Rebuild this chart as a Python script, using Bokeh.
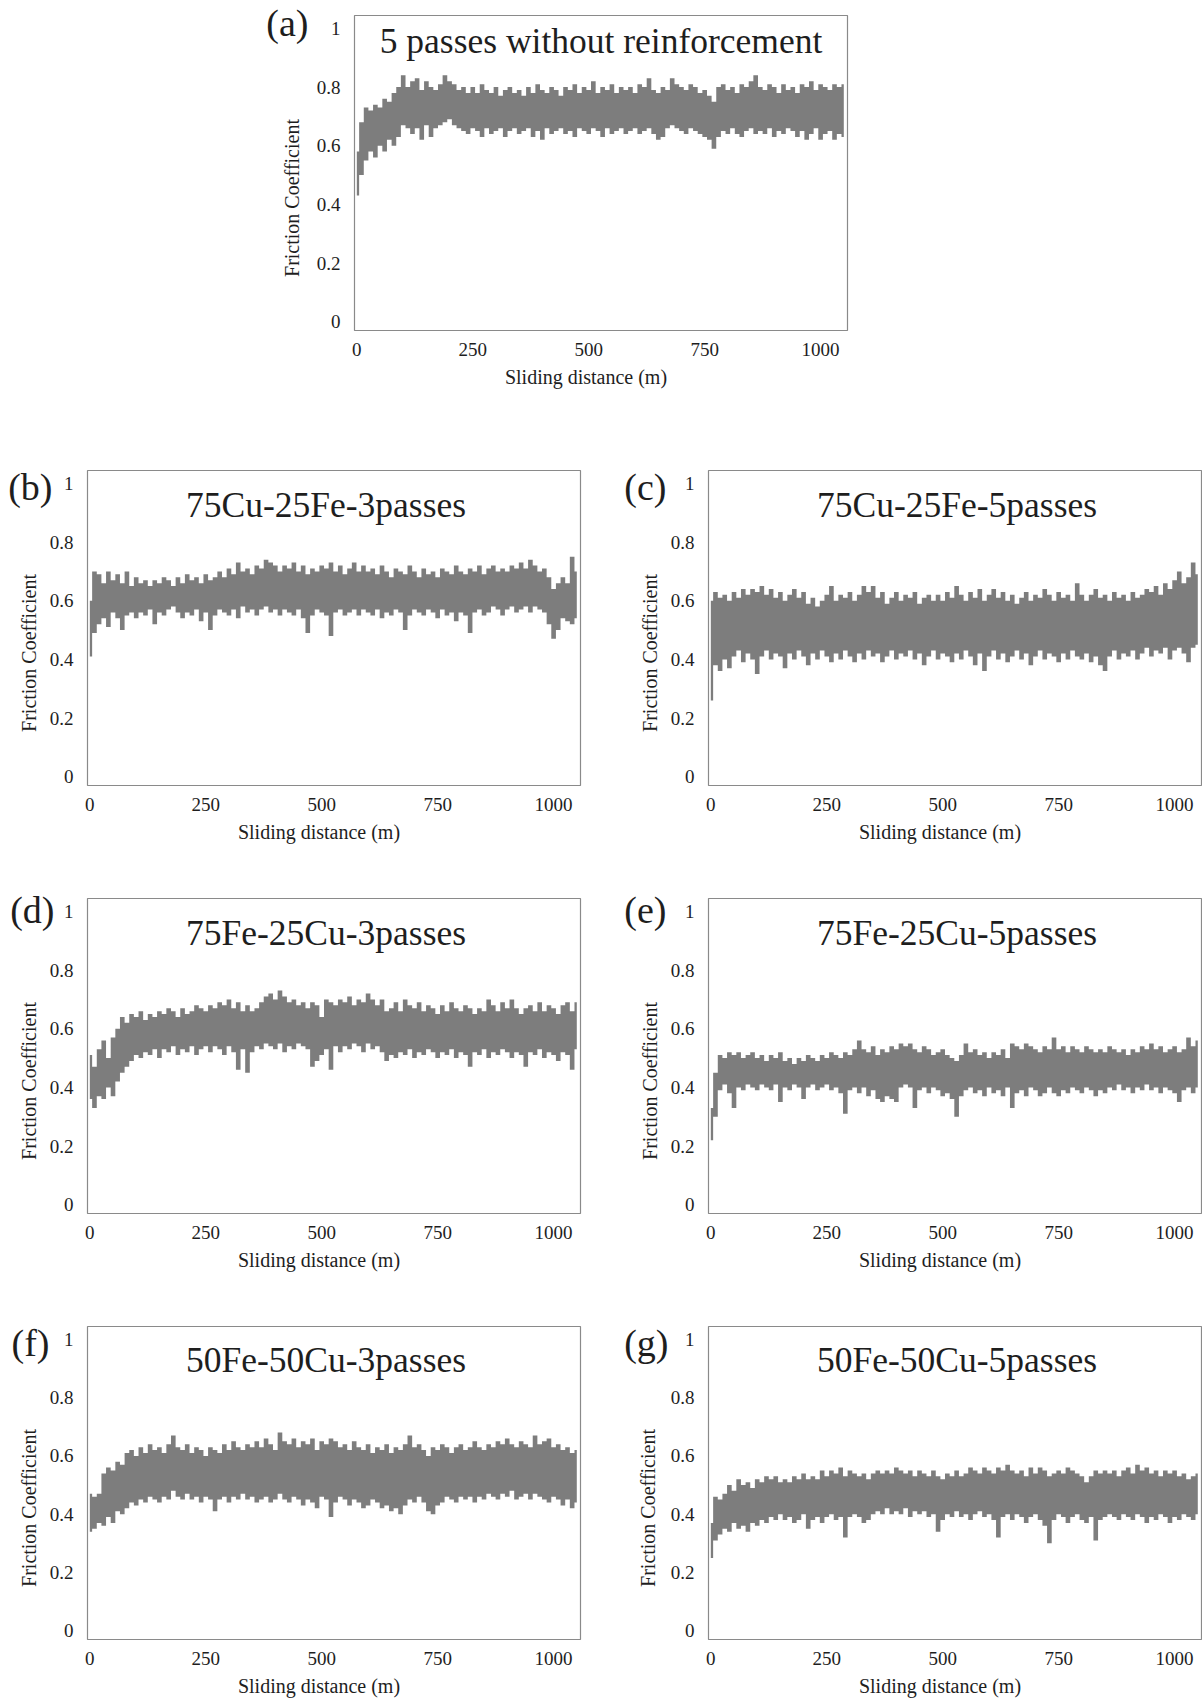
from bokeh.plotting import figure
from bokeh.models import (Range1d, FixedTicker, NumeralTickFormatter, Label, ColumnDataSource,
                          LinearAxis, CustomJSTickFormatter)
from bokeh.layouts import column, row
from bokeh.embed import file_html
from bokeh.resources import INLINE

# sampling positions along the sliding distance (m), every 10 m
dist = list(range(0, 1060, 10))

# upper / lower envelope of the friction-coefficient trace
hi_a = [0.58,0.68,0.73,0.72,0.74,0.73,0.76,0.75,0.78,0.80,0.84,0.80,0.82,0.83,0.79,0.82,0.80,0.79,0.81,0.84,
        0.82,0.81,0.79,0.80,0.78,0.80,0.78,0.81,0.79,0.78,0.80,0.77,0.79,0.80,0.78,0.79,0.77,0.80,0.78,0.81,
        0.79,0.78,0.80,0.79,0.77,0.80,0.79,0.81,0.78,0.80,0.79,0.82,0.78,0.80,0.79,0.81,0.78,0.80,0.79,0.80,
        0.78,0.81,0.80,0.83,0.79,0.78,0.80,0.79,0.83,0.81,0.80,0.79,0.81,0.80,0.78,0.79,0.77,0.75,0.80,0.81,
        0.79,0.80,0.78,0.81,0.80,0.82,0.84,0.80,0.79,0.81,0.80,0.78,0.81,0.79,0.80,0.78,0.81,0.80,0.82,0.79,
        0.81,0.80,0.79,0.81,0.80,0.81]
lo_a = [0.43,0.50,0.55,0.58,0.56,0.60,0.58,0.62,0.60,0.63,0.67,0.66,0.64,0.66,0.62,0.67,0.63,0.66,0.67,0.68,
        0.69,0.67,0.66,0.65,0.64,0.66,0.65,0.63,0.66,0.64,0.65,0.66,0.63,0.65,0.66,0.64,0.65,0.66,0.63,0.65,
        0.62,0.66,0.64,0.65,0.66,0.64,0.65,0.63,0.66,0.65,0.64,0.66,0.65,0.63,0.66,0.64,0.65,0.66,0.64,0.65,
        0.66,0.64,0.65,0.66,0.64,0.62,0.63,0.66,0.67,0.66,0.65,0.64,0.66,0.65,0.64,0.63,0.62,0.59,0.63,0.65,
        0.64,0.66,0.64,0.63,0.65,0.66,0.64,0.65,0.64,0.66,0.63,0.65,0.64,0.66,0.65,0.63,0.65,0.62,0.64,0.66,
        0.62,0.64,0.65,0.62,0.64,0.63]

hi_b = [0.60,0.70,0.69,0.66,0.70,0.67,0.69,0.66,0.70,0.65,0.68,0.66,0.67,0.65,0.67,0.66,0.68,0.67,0.65,0.68,
        0.66,0.69,0.67,0.68,0.66,0.69,0.67,0.68,0.70,0.68,0.71,0.69,0.73,0.70,0.71,0.69,0.72,0.71,0.74,0.73,
        0.72,0.70,0.72,0.71,0.73,0.70,0.72,0.69,0.71,0.70,0.72,0.71,0.73,0.70,0.72,0.69,0.71,0.73,0.70,0.72,
        0.70,0.71,0.69,0.72,0.70,0.68,0.71,0.70,0.69,0.72,0.70,0.68,0.71,0.69,0.70,0.68,0.71,0.70,0.69,0.72,
        0.70,0.69,0.71,0.70,0.72,0.69,0.71,0.72,0.70,0.71,0.70,0.72,0.71,0.73,0.71,0.74,0.72,0.70,0.71,0.68,
        0.64,0.66,0.68,0.66,0.75,0.70]
lo_b = [0.41,0.49,0.52,0.54,0.51,0.56,0.54,0.50,0.55,0.56,0.54,0.56,0.55,0.57,0.52,0.56,0.55,0.57,0.58,0.56,
        0.54,0.56,0.55,0.57,0.53,0.56,0.50,0.55,0.57,0.56,0.55,0.57,0.54,0.58,0.56,0.57,0.55,0.57,0.58,0.56,
        0.57,0.55,0.57,0.56,0.55,0.57,0.54,0.49,0.55,0.57,0.56,0.55,0.48,0.56,0.57,0.55,0.56,0.57,0.55,0.57,
        0.56,0.55,0.57,0.54,0.56,0.55,0.57,0.56,0.50,0.55,0.57,0.56,0.55,0.57,0.56,0.54,0.57,0.55,0.56,0.53,
        0.56,0.55,0.49,0.56,0.57,0.55,0.56,0.58,0.57,0.55,0.57,0.58,0.56,0.57,0.58,0.56,0.58,0.57,0.56,0.52,
        0.47,0.50,0.54,0.53,0.52,0.54]

hi_c = [0.60,0.63,0.61,0.62,0.60,0.63,0.61,0.64,0.62,0.64,0.63,0.65,0.62,0.64,0.61,0.63,0.60,0.62,0.64,0.61,
        0.63,0.59,0.61,0.58,0.60,0.62,0.65,0.60,0.62,0.61,0.63,0.60,0.62,0.65,0.63,0.65,0.61,0.63,0.59,0.61,
        0.63,0.60,0.62,0.61,0.63,0.59,0.61,0.62,0.60,0.62,0.60,0.63,0.61,0.65,0.62,0.60,0.63,0.61,0.64,0.60,
        0.62,0.64,0.61,0.63,0.60,0.62,0.59,0.61,0.63,0.60,0.62,0.61,0.64,0.62,0.60,0.63,0.61,0.62,0.60,0.66,
        0.62,0.60,0.62,0.64,0.61,0.62,0.60,0.63,0.61,0.62,0.60,0.63,0.61,0.62,0.64,0.63,0.65,0.62,0.66,0.64,
        0.67,0.70,0.66,0.68,0.73,0.69]
lo_c = [0.26,0.38,0.36,0.40,0.37,0.41,0.43,0.39,0.42,0.40,0.35,0.41,0.43,0.40,0.42,0.41,0.37,0.42,0.40,0.43,
        0.41,0.38,0.42,0.40,0.43,0.41,0.39,0.42,0.40,0.43,0.41,0.39,0.42,0.40,0.43,0.41,0.42,0.39,0.41,0.43,
        0.40,0.42,0.41,0.43,0.40,0.42,0.38,0.41,0.43,0.40,0.42,0.41,0.39,0.42,0.40,0.43,0.41,0.38,0.42,0.36,
        0.41,0.43,0.40,0.42,0.39,0.41,0.43,0.40,0.42,0.38,0.41,0.43,0.40,0.42,0.41,0.39,0.42,0.40,0.43,0.41,
        0.40,0.42,0.39,0.41,0.38,0.36,0.41,0.43,0.40,0.42,0.41,0.43,0.40,0.42,0.44,0.41,0.43,0.42,0.44,0.40,
        0.43,0.44,0.42,0.39,0.44,0.45]

hi_d = [0.51,0.47,0.53,0.56,0.50,0.57,0.60,0.64,0.62,0.65,0.64,0.66,0.63,0.65,0.64,0.66,0.65,0.67,0.66,0.64,
        0.67,0.65,0.66,0.68,0.67,0.66,0.68,0.67,0.69,0.68,0.70,0.67,0.69,0.66,0.68,0.66,0.67,0.69,0.71,0.72,
        0.70,0.73,0.71,0.69,0.70,0.68,0.69,0.67,0.69,0.68,0.64,0.70,0.69,0.68,0.70,0.69,0.71,0.68,0.70,0.69,
        0.72,0.70,0.68,0.70,0.66,0.67,0.69,0.66,0.70,0.68,0.67,0.69,0.66,0.68,0.67,0.65,0.68,0.66,0.69,0.67,
        0.66,0.68,0.67,0.65,0.67,0.66,0.70,0.68,0.66,0.69,0.67,0.70,0.67,0.65,0.67,0.68,0.66,0.69,0.66,0.68,
        0.67,0.65,0.68,0.69,0.66,0.69]
lo_d = [0.36,0.33,0.37,0.36,0.40,0.37,0.42,0.45,0.47,0.49,0.51,0.50,0.52,0.51,0.53,0.50,0.53,0.52,0.54,0.51,
        0.53,0.52,0.54,0.51,0.53,0.54,0.52,0.54,0.53,0.51,0.54,0.52,0.46,0.53,0.45,0.52,0.54,0.53,0.55,0.54,
        0.53,0.55,0.52,0.54,0.53,0.55,0.54,0.53,0.47,0.49,0.51,0.53,0.46,0.54,0.52,0.54,0.53,0.55,0.54,0.52,
        0.55,0.53,0.54,0.52,0.49,0.51,0.50,0.52,0.51,0.53,0.50,0.52,0.51,0.53,0.52,0.50,0.52,0.51,0.53,0.50,
        0.52,0.51,0.47,0.52,0.51,0.53,0.50,0.52,0.51,0.53,0.52,0.50,0.52,0.51,0.47,0.52,0.51,0.53,0.50,0.52,
        0.51,0.49,0.52,0.51,0.46,0.53]

hi_e = [0.33,0.45,0.51,0.50,0.52,0.51,0.52,0.50,0.51,0.52,0.50,0.51,0.49,0.51,0.50,0.52,0.49,0.50,0.48,0.50,
        0.49,0.51,0.50,0.49,0.51,0.50,0.52,0.51,0.50,0.52,0.51,0.53,0.56,0.53,0.52,0.54,0.51,0.53,0.52,0.54,
        0.53,0.55,0.54,0.55,0.53,0.52,0.54,0.53,0.51,0.52,0.53,0.51,0.50,0.49,0.51,0.55,0.52,0.53,0.51,0.52,
        0.50,0.52,0.51,0.53,0.50,0.55,0.54,0.53,0.55,0.54,0.53,0.52,0.54,0.53,0.57,0.53,0.54,0.52,0.54,0.53,
        0.52,0.54,0.53,0.52,0.53,0.52,0.54,0.53,0.52,0.53,0.51,0.53,0.52,0.54,0.53,0.55,0.53,0.54,0.52,0.53,
        0.54,0.52,0.53,0.57,0.54,0.56]
lo_e = [0.22,0.30,0.39,0.41,0.38,0.33,0.40,0.39,0.41,0.40,0.39,0.41,0.40,0.39,0.41,0.35,0.40,0.39,0.41,0.40,
        0.36,0.40,0.41,0.39,0.40,0.41,0.39,0.40,0.38,0.31,0.39,0.40,0.38,0.40,0.37,0.39,0.36,0.35,0.37,0.36,
        0.35,0.40,0.41,0.40,0.33,0.39,0.40,0.38,0.40,0.39,0.37,0.38,0.36,0.30,0.37,0.39,0.40,0.38,0.39,0.37,
        0.40,0.38,0.39,0.37,0.40,0.33,0.38,0.39,0.37,0.40,0.39,0.37,0.38,0.40,0.38,0.37,0.39,0.38,0.40,0.39,
        0.38,0.40,0.39,0.37,0.39,0.38,0.40,0.39,0.41,0.39,0.40,0.38,0.40,0.39,0.41,0.39,0.40,0.38,0.40,0.39,
        0.38,0.35,0.39,0.40,0.38,0.40]

hi_f = [0.47,0.46,0.47,0.54,0.56,0.55,0.58,0.57,0.61,0.62,0.60,0.63,0.61,0.64,0.62,0.63,0.61,0.64,0.67,0.63,
        0.62,0.64,0.61,0.63,0.62,0.60,0.63,0.62,0.61,0.64,0.62,0.65,0.63,0.62,0.64,0.63,0.65,0.63,0.66,0.64,
        0.62,0.68,0.65,0.64,0.66,0.63,0.65,0.64,0.66,0.62,0.65,0.64,0.66,0.65,0.63,0.64,0.62,0.65,0.63,0.62,
        0.64,0.61,0.63,0.62,0.64,0.61,0.63,0.62,0.64,0.67,0.63,0.64,0.62,0.60,0.63,0.62,0.64,0.63,0.61,0.63,
        0.64,0.62,0.63,0.65,0.63,0.62,0.64,0.63,0.65,0.64,0.66,0.64,0.63,0.65,0.64,0.63,0.67,0.64,0.65,0.66,
        0.63,0.64,0.62,0.63,0.61,0.62]
lo_f = [0.34,0.35,0.37,0.36,0.39,0.37,0.41,0.40,0.42,0.44,0.43,0.45,0.44,0.46,0.45,0.44,0.46,0.45,0.48,0.46,
        0.45,0.47,0.45,0.46,0.44,0.46,0.45,0.41,0.45,0.46,0.44,0.46,0.45,0.47,0.45,0.46,0.44,0.45,0.46,0.44,
        0.45,0.47,0.45,0.44,0.46,0.45,0.43,0.45,0.44,0.42,0.46,0.45,0.39,0.44,0.46,0.45,0.43,0.45,0.44,0.42,
        0.43,0.45,0.44,0.42,0.43,0.41,0.42,0.40,0.43,0.45,0.44,0.46,0.44,0.41,0.40,0.43,0.44,0.46,0.45,0.44,
        0.46,0.45,0.46,0.44,0.46,0.45,0.47,0.46,0.45,0.47,0.46,0.48,0.45,0.46,0.47,0.45,0.47,0.46,0.45,0.44,
        0.46,0.45,0.43,0.45,0.42,0.44]

hi_g = [0.37,0.46,0.45,0.47,0.50,0.48,0.52,0.50,0.51,0.49,0.52,0.51,0.53,0.52,0.53,0.51,0.52,0.51,0.53,0.52,
        0.54,0.52,0.53,0.52,0.55,0.53,0.55,0.54,0.56,0.53,0.55,0.54,0.53,0.54,0.52,0.54,0.55,0.54,0.55,0.54,
        0.56,0.55,0.54,0.55,0.53,0.55,0.54,0.53,0.55,0.53,0.52,0.54,0.53,0.55,0.53,0.54,0.56,0.55,0.54,0.56,
        0.55,0.54,0.56,0.55,0.57,0.55,0.54,0.55,0.53,0.56,0.54,0.56,0.55,0.53,0.54,0.55,0.54,0.56,0.55,0.54,
        0.53,0.51,0.53,0.55,0.54,0.55,0.54,0.55,0.53,0.55,0.56,0.54,0.57,0.55,0.56,0.54,0.55,0.53,0.55,0.54,
        0.55,0.53,0.54,0.52,0.53,0.54]
lo_g = [0.25,0.31,0.33,0.35,0.34,0.37,0.35,0.36,0.34,0.37,0.36,0.38,0.37,0.39,0.38,0.40,0.38,0.39,0.37,0.38,
        0.40,0.35,0.38,0.39,0.37,0.39,0.40,0.38,0.39,0.32,0.39,0.40,0.39,0.37,0.38,0.40,0.41,0.40,0.42,0.40,
        0.41,0.40,0.42,0.39,0.41,0.40,0.41,0.39,0.40,0.34,0.38,0.40,0.39,0.41,0.39,0.40,0.38,0.40,0.41,0.39,
        0.40,0.38,0.32,0.39,0.40,0.38,0.40,0.39,0.37,0.39,0.40,0.38,0.36,0.30,0.38,0.40,0.39,0.37,0.39,0.40,
        0.38,0.37,0.39,0.31,0.38,0.39,0.40,0.39,0.38,0.40,0.39,0.38,0.40,0.39,0.37,0.39,0.38,0.40,0.39,0.37,
        0.39,0.38,0.40,0.39,0.38,0.40]

letters = ["(a)", "(b)", "(c)", "(d)", "(e)", "(f)", "(g)"]
titles = ["5 passes without reinforcement",
          "75Cu-25Fe-3passes", "75Cu-25Fe-5passes",
          "75Fe-25Cu-3passes", "75Fe-25Cu-5passes",
          "50Fe-50Cu-3passes", "50Fe-50Cu-5passes"]
x_ticks = [0, 250, 500, 750, 1000]
y_ticks = [0, 0.2, 0.4, 0.6, 0.8, 1]
x_label = "Sliding distance (m)"
y_label = "Friction Coefficient"

FONT = "Liberation Serif"
GRAY = "#7d7d7d"
TXT = "#1e1e1e"
X0, X1 = -5, 1058
Y0, Y1 = -0.03, 1.044
FW, FH = 493, 315
SX = FW / (X1 - X0)
SY = FH / (Y1 - Y0)
NB = "\u00a0"


def panel(hi, lo, letter, title, L, R, T, B, let_y, let_so, ylab_so, title_dx, title_dy, title_size):
    p = figure(width=L + FW + R, height=T + FH + B,
               x_range=Range1d(X0, X1), y_range=Range1d(Y0, Y1),
               output_backend="svg", toolbar_location=None,
               min_border_left=L, min_border_right=R,
               min_border_top=T, min_border_bottom=B)
    p.grid.visible = False
    p.outline_line_color = "#8a8a8a"
    p.outline_line_width = 1.2
    p.background_fill_color = "white"
    p.border_fill_color = "white"

    src = ColumnDataSource(dict(x=dist, hi=hi, lo=lo))
    p.varea_step(x="x", y1="lo", y2="hi", step_mode="center", source=src, fill_color=GRAY)

    xa, ya = p.xaxis[0], p.yaxis[0]
    la = LinearAxis(ticker=FixedTicker(ticks=[let_y]),
                    formatter=CustomJSTickFormatter(code='return "%s";' % letter))
    for ax in (xa, ya, la):
        ax.axis_line_color = None
        ax.major_tick_line_color = None
        ax.minor_tick_line_color = None
        ax.major_tick_out = 0
        ax.major_tick_in = 0
        ax.minor_tick_out = 0
        ax.minor_tick_in = 0
        ax.major_label_text_font = FONT
        ax.major_label_text_font_size = "19px"
        ax.major_label_text_color = TXT
        ax.axis_label_text_font = FONT
        ax.axis_label_text_font_size = "20px"
        ax.axis_label_text_font_style = "normal"
        ax.axis_label_text_color = TXT
    xa.ticker = FixedTicker(ticks=x_ticks)
    ya.ticker = FixedTicker(ticks=y_ticks)
    ya.formatter = NumeralTickFormatter(format="0.[0]")
    xa.major_label_standoff = 12
    ya.major_label_standoff = 14
    xa.axis_label = x_label + NB * 6
    xa.axis_label_standoff = 7

    la.major_label_text_font_size = "38px"
    la.major_label_standoff = let_so
    la.axis_label = y_label + NB * 10
    la.axis_label_standoff = ylab_so
    p.add_layout(la, "left")

    p.add_layout(Label(x=(X0 + X1) / 2 + title_dx / SX, y=Y1 - title_dy / SY, text=title,
                       text_font=FONT, text_font_size=title_size, text_color=TXT,
                       text_align="center", text_baseline="middle"))
    return p


pa = panel(hi_a, lo_a, letters[0], titles[0], 354, 10, 15, 60, 1.03, 5, -40, 0, 25, "35.5px")
pb = panel(hi_b, lo_b, letters[1], titles[1], 87, 30, 80, 60, 0.988, -6, -35, -8, 34, "35.5px")
pc = panel(hi_c, lo_c, letters[2], titles[2], 98, 1, 80, 60, 0.988, 1, -40, 2, 34, "35.5px")
pd = panel(hi_d, lo_d, letters[3], titles[3], 87, 30, 53, 60, 1.006, -8, -33, -8, 34, "35.5px")
pe = panel(hi_e, lo_e, letters[4], titles[4], 98, 1, 53, 60, 1.006, 1, -40, 2, 34, "35.5px")
pf = panel(hi_f, lo_f, letters[5], titles[5], 87, 30, 53, 58, 0.989, -3, -31, -8, 34, "35.5px")
pg = panel(hi_g, lo_g, letters[6], titles[6], 98, 1, 53, 58, 0.989, -1, -38, 2, 34, "35.5px")

layout = column(row(pa), row(pb, pc), row(pd, pe), row(pf, pg))

open("out.html", "w").write(file_html(layout, INLINE))
